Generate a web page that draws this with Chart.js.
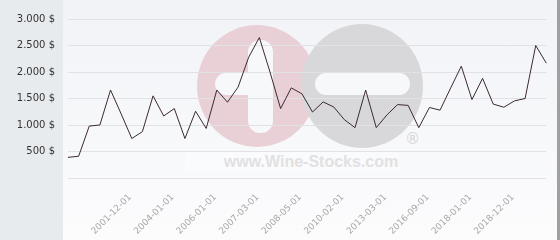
<!DOCTYPE html>
<html>
<head>
<meta charset="utf-8">
<script src="https://cdn.jsdelivr.net/npm/chart.js@4/dist/chart.umd.min.js"></script>
<style>
  html, body { margin: 0; padding: 0; width: 560px; height: 240px; overflow: hidden; background: #fff; }
  #wrap { position: relative; width: 560px; height: 240px; }
  .abs { position: absolute; }
  #leftPanel { left: 0; top: 0; width: 63px; height: 240px; background: #e8ebee; }
  #plotBg { left: 63px; top: 0; width: 494px; height: 240px; background: linear-gradient(#f1f3f7, #fcfcfd); }
  #rightBorder { left: 557px; top: 0; width: 3px; height: 240px; background: #a0a0a0; }
  .circle { border-radius: 50%; }
  #c1 { left: 197px; top: 25px; width: 120px; height: 122px; background: #e9d0d6; }
  #c2 { left: 301px; top: 24px; width: 122px; height: 124px; background: #d8d8da; }
  .bar { background: #f7f8fa; }
  #b1 { left: 248px; top: 40px; width: 25px; height: 93px; border-radius: 12px; }
  #b2 { left: 215px; top: 73px; width: 58px; height: 22px; border-radius: 11px; }
  #b3 { left: 315px; top: 73px; width: 95px; height: 22px; border-radius: 11px; }
  #reg { left: 405px; top: 130px; font: 15px "DejaVu Sans", sans-serif; color: #d6d6d8; }
  #wmRect { left: 185px; top: 151px; width: 213px; height: 22px; background: rgba(255,255,255,0.3); }
  #wmText { left: 211px; top: 151px; width: 200px; height: 22px;
            font: bold 16px "Liberation Sans", Arial, sans-serif; color: #e1e1e3; text-align: center; line-height: 22px; }
  canvas { position: absolute; left: 0; top: 0; }
</style>
</head>
<body>
<div id="wrap">
  <div id="leftPanel" class="abs"></div>
  <div id="plotBg" class="abs"></div>
  <div id="rightBorder" class="abs"></div>
  <div id="c1" class="abs circle"></div>
  <div id="c2" class="abs circle"></div>
  <div id="b1" class="abs bar"></div>
  <div id="b2" class="abs bar"></div>
  <div id="b3" class="abs bar"></div>
  <div id="reg" class="abs">®</div>
  <div id="wmRect" class="abs"></div>
  <div id="wmText" class="abs">www.Wine-Stocks.com</div>
  <canvas id="chart" width="560" height="240"></canvas>
</div>
<script>
// Categories (only the dates readable on the axis are known; others left blank)
const categories = [
  '', '', '', '', '', '2001-12-01', '', '', '', '2004-01-01',
  '', '', '', '2006-01-01', '', '', '', '2007-03-01', '', '',
  '', '2008-05-01', '', '', '', '2010-02-01', '', '', '', '2013-03-01',
  '', '', '', '2016-09-01', '', '', '', '2018-01-01', '', '',
  '', '2018-12-01', '', '', '', ''
];

// Price series (USD)
const prices = [
  390, 410, 980, 1000, 1660, 1210, 745, 875, 1550, 1170,
  1310, 745, 1260, 935, 1660, 1430, 1715, 2280, 2650, 2000,
  1310, 1700, 1590, 1245, 1435, 1340, 1100, 950, 1660, 950,
  1190, 1385, 1370, 950, 1330, 1280, 1700, 2110, 1480, 1880,
  1395, 1335, 1455, 1500, 2500, 2165
];

// Y-axis ticks
const yTicks = [0, 500, 1000, 1500, 2000, 2500, 3000];

function fmtDollar(v) {
  if (v === 0) return '';
  const s = String(Math.round(v));
  return s.replace(/\B(?=(\d{3})+(?!\d))/g, '.') + ' $';
}

new Chart(document.getElementById('chart'), {
  type: 'line',
  data: {
    labels: categories,
    datasets: [{
      data: prices,
      borderColor: '#3b2a31',
      borderWidth: 1,
      pointRadius: 0,
      tension: 0,
      fill: false
    }]
  },
  options: {
    responsive: false,
    animation: false,
    events: [],
    layout: { padding: { top: 16, right: 5, left: 0, bottom: 0 } },
    plugins: { legend: { display: false }, tooltip: { enabled: false } },
    scales: {
      x: {
        type: 'category',
        grid: { display: false },
        border: { display: false },
        ticks: {
          autoSkip: false,
          maxRotation: 45,
          minRotation: 45,
          padding: 6,
          labelOffset: 9,
          color: '#a8a8a8',
          font: { family: 'DejaVu Sans', size: 9 }
        },
        afterFit: s => { s.height = 62; }
      },
      y: {
        min: yTicks[0],
        max: yTicks[yTicks.length - 1],
        afterBuildTicks: s => { s.ticks = yTicks.map(v => ({ value: v })); },
        grid: { color: '#e2e2e4', drawTicks: false, lineWidth: 1 },
        border: { display: false },
        ticks: {
          padding: 13,
          color: '#333',
          font: { family: 'DejaVu Sans', size: 10 },
          callback: v => fmtDollar(v)
        },
        afterFit: s => { s.width = 68; }
      }
    }
  }
});
</script>
</body>
</html>
